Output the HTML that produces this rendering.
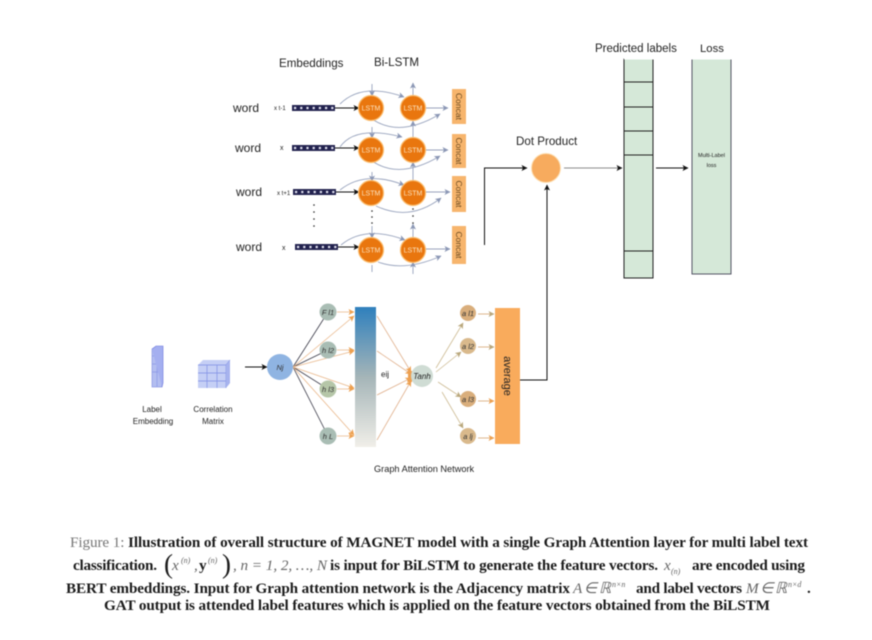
<!DOCTYPE html>
<html>
<head>
<meta charset="utf-8">
<style>
html,body{margin:0;padding:0;background:#fff;width:872px;height:640px;overflow:hidden}
svg{display:block;filter:blur(0.45px)}
text{font-family:"Liberation Sans",sans-serif;fill:#222}
.cap{font-family:"Liberation Serif",serif;font-size:15.2px;fill:#1c1c1c}
.b{font-weight:bold}
.g{fill:#777}
.mi{font-style:italic;fill:#666}
.sup{font-size:8px}
.lstm{font-size:7px;fill:#fbe3c0;text-anchor:middle}
.con{font-size:8.5px;fill:#6b4a20;text-anchor:middle}
.w{font-size:12px}
.s{font-size:7.5px;fill:#333;text-anchor:middle;font-style:italic}
</style>
</head>
<body>
<svg width="872" height="640" viewBox="0 0 872 640" xmlns="http://www.w3.org/2000/svg">
<defs>
<linearGradient id="gr" x1="0" y1="0" x2="0" y2="1">
<stop offset="0" stop-color="#2f80bd"/><stop offset=".5" stop-color="#a5b5b8"/><stop offset="1" stop-color="#f1efe9"/>
</linearGradient>
<marker id="k" markerWidth="7" markerHeight="7" refX="5.5" refY="3" orient="auto" markerUnits="userSpaceOnUse"><path d="M0 0L6 3L0 6L1.5 3Z" fill="#111"/></marker>
<marker id="p" markerWidth="7" markerHeight="7" refX="5.5" refY="3" orient="auto" markerUnits="userSpaceOnUse"><path d="M0 0L6 3L0 6L1.5 3Z" fill="#8b97b5"/></marker>
<marker id="o" markerWidth="7" markerHeight="7" refX="5.5" refY="3" orient="auto" markerUnits="userSpaceOnUse"><path d="M0 0L6 3L0 6L1.5 3Z" fill="#eda050"/></marker>
<marker id="t" markerWidth="7" markerHeight="7" refX="5.5" refY="3" orient="auto" markerUnits="userSpaceOnUse"><path d="M0 0L6 3L0 6L1.5 3Z" fill="#b9a77c"/></marker>
</defs>

<!-- top titles -->
<text x="279" y="67" font-size="11.6">Embeddings</text>
<text x="374" y="66" font-size="11.6">Bi-LSTM</text>
<text x="595" y="52" font-size="11.5">Predicted labels</text>
<text x="700" y="52" font-size="11.3">Loss</text>
<text x="516" y="145" font-size="11.6">Dot Product</text>

<!-- words -->
<text x="233" y="112" class="w">word</text>
<text x="235" y="152" class="w">word</text>
<text x="236" y="196" class="w">word</text>
<text x="236" y="251" class="w">word</text>
<text x="274" y="110" font-size="6" fill="#555">x t-1</text>
<text x="280" y="150" font-size="7">x</text>
<text x="277" y="195" font-size="6">x t+1</text>
<text x="282" y="250" font-size="7">x</text>

<!-- embedding bars -->
<g fill="#23234f">
<rect x="292" y="105" width="43" height="6"/>
<rect x="292" y="145" width="43" height="6"/>
<rect x="293" y="189" width="43" height="6"/>
<rect x="295" y="244" width="43" height="6"/>
</g>
<g stroke="#dfe0ee" stroke-width="2.2" stroke-dasharray="2.2 4" fill="none">
<path d="M294 108H334"/>
<path d="M294 148H334"/>
<path d="M295 192H335"/>
<path d="M297 247H337"/>
</g>
<g stroke="#111" stroke-width="1" fill="none">
<path d="M335 108H359" marker-end="url(#k)"/>
<path d="M335 148H359" marker-end="url(#k)"/>
<path d="M336 192H359" marker-end="url(#k)"/>
<path d="M338 247H359" marker-end="url(#k)"/>
</g>

<!-- grey connectors -->
<g stroke="#98a3bd" stroke-width="0.9" fill="none">
<path d="M340 104Q362 82 404 97" marker-end="url(#p)"/>
<path d="M340 147Q355 125 402 137" marker-end="url(#p)"/>
<path d="M340 190Q365 170 404 185" marker-end="url(#p)"/>
<path d="M341 245Q365 225 405 240" marker-end="url(#p)"/>
<path d="M372 119Q400 138 440 114" marker-end="url(#p)"/>
<path d="M372 161Q400 180 440 156" marker-end="url(#p)"/>
<path d="M376 206Q410 222 441 198" marker-end="url(#p)"/>
<path d="M378 262Q405 272 441 256" marker-end="url(#p)"/>
<path d="M413 96V83" marker-end="url(#p)"/>
<path d="M413 138V121" marker-end="url(#p)"/>
<path d="M413 181V162" marker-end="url(#p)"/>
<path d="M413 238V224" marker-end="url(#p)"/>
<path d="M425 108H448" marker-end="url(#p)"/>
<path d="M425 150H448" marker-end="url(#p)"/>
<path d="M425 192H450" marker-end="url(#p)"/>
<path d="M425 249H450" marker-end="url(#p)"/>
<path d="M372 84V96" marker-end="url(#p)"/>
<path d="M372 127V138" marker-end="url(#p)"/>
<path d="M372 172V181" marker-end="url(#p)"/>
<path d="M372 226V238" marker-end="url(#p)"/>
<path d="M413 274V262" marker-end="url(#p)"/>
<path d="M372 265V272"/>
</g>

<!-- LSTM cells -->
<g fill="#e9760e" stroke="#fbbf72" stroke-width="1.2">
<circle cx="371" cy="108" r="12.5"/><circle cx="413" cy="108" r="12.5"/>
<circle cx="371" cy="150" r="12.5"/><circle cx="413" cy="150" r="12.5"/>
<circle cx="371" cy="193" r="12.5"/><circle cx="413" cy="193" r="12.5"/>
<circle cx="371" cy="250" r="12.5"/><circle cx="413" cy="250" r="12.5"/>
</g>
<text class="lstm" x="371" y="110.5">LSTM</text><text class="lstm" x="413" y="110.5">LSTM</text>
<text class="lstm" x="371" y="152.5">LSTM</text><text class="lstm" x="413" y="152.5">LSTM</text>
<text class="lstm" x="371" y="195.5">LSTM</text><text class="lstm" x="413" y="195.5">LSTM</text>
<text class="lstm" x="371" y="252.5">LSTM</text><text class="lstm" x="413" y="252.5">LSTM</text>

<!-- vertical dots -->
<g fill="#222">
<circle cx="314" cy="205" r=".8"/><circle cx="314" cy="212" r=".8"/><circle cx="314" cy="219" r=".8"/><circle cx="314" cy="226" r=".8"/>
<circle cx="372" cy="211" r=".8"/><circle cx="372" cy="217" r=".8"/><circle cx="372" cy="223" r=".8"/>
<circle cx="413" cy="209" r=".8"/><circle cx="413" cy="216" r=".8"/><circle cx="413" cy="223" r=".8"/>
<circle cx="638" cy="182" r=".7"/><circle cx="638" cy="188" r=".7"/><circle cx="638" cy="194" r=".7"/><circle cx="638" cy="200" r=".7"/><circle cx="638" cy="206" r=".7"/>
</g>

<!-- Concat -->
<g fill="#f7b56d">
<rect x="452" y="89" width="14" height="35"/>
<rect x="452" y="134" width="14" height="34"/>
<rect x="452" y="176" width="14" height="36"/>
<rect x="452" y="226" width="14" height="38"/>
</g>
<text class="con" transform="translate(456,106.500) rotate(90)">Concat</text>
<text class="con" transform="translate(456,151) rotate(90)">Concat</text>
<text class="con" transform="translate(456,194) rotate(90)">Concat</text>
<text class="con" transform="translate(456,245) rotate(90)">Concat</text>

<!-- Dot product -->
<path d="M484.500 245V168H527" stroke="#111" stroke-width="1" fill="none" marker-end="url(#k)"/>
<path d="M520 380H547V185" stroke="#111" stroke-width="1" fill="none" marker-end="url(#k)"/>
<circle cx="546" cy="168" r="14.500" fill="#f7ab5e" stroke="#fde0b5" stroke-width="1"/>
<path d="M564 168H622" stroke="#666" stroke-width=".8" fill="none" marker-end="url(#k)"/>
<path d="M656 168H688" stroke="#111" stroke-width="1" fill="none" marker-end="url(#k)"/>

<!-- Predicted column -->
<rect x="624" y="59" width="29" height="219" fill="#d5e8d8" stroke="#222" stroke-width="1"/>
<rect x="624" y="57" width="29.500" height="2.500" fill="#fff"/>
<g stroke="#222" stroke-width="1">
<path d="M624 82H653M624 107H653M624 131H653M624 155H653M624 251H653"/>
</g>
<!-- Loss -->
<rect x="692" y="59" width="39" height="215" fill="#d5e8d8" stroke="#556" stroke-width="1"/>
<rect x="691" y="57" width="41" height="2.500" fill="#fff"/>
<text x="711.500" y="157" font-size="5.500" text-anchor="middle" fill="#444">Multi-Label</text>
<text x="711.500" y="167" font-size="5.500" text-anchor="middle" fill="#444">loss</text>

<!-- Left GAT input -->
<g>
<rect x="152" y="349" width="10" height="38" fill="#b3bef0" stroke="#7d8be0" stroke-width=".6"/>
<path d="M152 356H162M152 364H162M152 372H162M157 349V387" stroke="#8a96e6" stroke-width=".7"/>
<path d="M152 349L156 346H163V383L162 387" fill="#a4aff0" stroke="#6a76dc" stroke-width=".6"/>
<path d="M198 365L203 360H230V383L226 388H198Z" fill="#c5cff5"/>
<path d="M198 365H226V388M226 365L230 360M207 365V388M217 365V388M198 373H226M198 381H226" stroke="#7f8fe4" stroke-width=".7" fill="none"/>
<path d="M226 365L230 360V383L226 388Z" fill="#a7b3ee"/>
</g>
<text x="152" y="412" font-size="8" text-anchor="middle" fill="#444">Label</text>
<text x="153" y="424" font-size="8" text-anchor="middle" fill="#444">Embedding</text>
<text x="213" y="412" font-size="8" text-anchor="middle" fill="#444">Correlation</text>
<text x="213" y="424" font-size="8" text-anchor="middle" fill="#444">Matrix</text>
<path d="M245 367H267" stroke="#111" stroke-width="1" fill="none" marker-end="url(#k)"/>

<!-- Nj fan -->
<g stroke="#3a3a48" stroke-width=".8">
<path d="M293 367L328 312M293 367L328 350M293 367L328 389M293 367L328 436"/>
</g>
<g stroke="#e9b78a" stroke-width=".8" fill="none">
<path d="M293 367L354 316" marker-end="url(#o)"/>
<path d="M293 367L354 351" marker-end="url(#o)"/>
<path d="M293 367L354 388" marker-end="url(#o)"/>
<path d="M293 367L354 435" marker-end="url(#o)"/>
<path d="M337 312H354" marker-end="url(#o)"/>
<path d="M337 350H354" marker-end="url(#o)"/>
<path d="M337 389H354" marker-end="url(#o)"/>
<path d="M337 436H354" marker-end="url(#o)"/>
</g>
<circle cx="280" cy="367" r="13" fill="#8fb4e2"/>
<text class="s" x="280" y="370" font-size="8">Nj</text>
<circle cx="328" cy="312" r="8.500" fill="#a9bdb4"/>
<circle cx="328" cy="350" r="8.500" fill="#a9bdb4"/>
<circle cx="328" cy="389" r="8.500" fill="#b5c6a8"/>
<circle cx="328" cy="436" r="8.500" fill="#a9bdb4"/>
<text class="s" x="328" y="315">F l1</text>
<text class="s" x="328" y="353">h l2</text>
<text class="s" x="328" y="392">h l3</text>
<text class="s" x="328" y="439">h L</text>

<!-- gradient attention bar -->
<rect x="355" y="307" width="21" height="140" fill="url(#gr)"/>
<text x="381" y="377" font-size="8" fill="#222">eij</text>

<!-- to Tanh -->
<g stroke="#e0b08c" stroke-width=".8" fill="none">
<path d="M377 316L411 372" marker-end="url(#o)"/>
<path d="M377 351L411 374" marker-end="url(#o)"/>
<path d="M377 395L411 378" marker-end="url(#o)"/>
<path d="M377 440L411 381" marker-end="url(#o)"/>
</g>
<rect x="408" y="371" width="4" height="11" fill="#eda050"/>
<circle cx="422" cy="376" r="11" fill="#cfdcd4"/>
<text x="422" y="379" font-size="8" font-style="italic" text-anchor="middle" fill="#222">Tanh</text>
<g stroke="#cdbb94" stroke-width=".8" fill="none">
<path d="M436 368L463 323" marker-end="url(#t)"/>
<path d="M436 372L461 352" marker-end="url(#t)"/>
<path d="M438 382L461 397" marker-end="url(#t)"/>
<path d="M442 392L463 428" marker-end="url(#t)"/>
<path d="M478 314H494" stroke="#d9a570" marker-end="url(#t)"/>
<path d="M478 347H494" stroke="#d9a570" marker-end="url(#t)"/>
<path d="M478 401H494" stroke="#d9a570" marker-end="url(#o)"/>
<path d="M478 438H494" stroke="#d9a570" marker-end="url(#o)"/>
</g>
<circle cx="468" cy="313" r="8" fill="#d9ae7c"/>
<circle cx="468" cy="346" r="8" fill="#d9b98c"/>
<circle cx="468" cy="399" r="8" fill="#d9ae7c"/>
<circle cx="468" cy="436" r="8" fill="#d9b98c"/>
<text class="s" x="468" y="316">a l1</text>
<text class="s" x="468" y="349">a l2</text>
<text class="s" x="468" y="402">a l3</text>
<text class="s" x="468" y="439">a lj</text>

<!-- average -->
<rect x="495" y="308" width="25" height="136" fill="#f9ab5c"/>
<text transform="translate(504,376) rotate(90)" font-size="11" text-anchor="middle" fill="#222">average</text>

<text x="374" y="472" font-size="9.200" fill="#333">Graph Attention Network</text>

<!-- caption -->
<text class="cap" x="70" y="547" textLength="738" lengthAdjust="spacing"><tspan class="g">Figure 1: </tspan><tspan class="b">Illustration of overall structure of MAGNET model with a single Graph Attention layer for multi label text</tspan></text>

<text class="cap b" x="73" y="570" textLength="84" lengthAdjust="spacing">classification.</text>
<text class="cap" x="164" y="573" fill="#444" style="font-size:27px;font-weight:normal">(</text>
<text class="cap mi" x="172" y="570">x</text>
<text class="cap mi sup" x="181" y="563" style="font-size:8px">(n)</text>
<text class="cap mi" x="194" y="570">,</text>
<text class="cap b" x="199" y="570">y</text>
<text class="cap mi sup" x="208" y="563" style="font-size:8px">(n)</text>
<text class="cap" x="222" y="573" fill="#444" style="font-size:27px;font-weight:normal">)</text>
<text class="cap mi" x="233" y="570" textLength="94" lengthAdjust="spacing">, n = 1, 2, …, N</text>
<text class="cap b" x="330" y="570" textLength="328" lengthAdjust="spacing">is input for BiLSTM to generate the feature vectors.</text>
<text class="cap mi" x="664" y="570">x</text>
<text class="cap mi" x="671" y="574" style="font-size:8px">(n)</text>
<text class="cap b" x="692" y="570" textLength="113" lengthAdjust="spacing">are encoded using</text>

<text class="cap b" x="66" y="593" textLength="504" lengthAdjust="spacing">BERT embeddings. Input for Graph attention network is the Adjacency matrix</text>
<text class="cap mi" x="573" y="593" textLength="38" lengthAdjust="spacing">A ∈ ℝ</text>
<text class="cap mi" x="612" y="587" style="font-size:8px">n×n</text>
<text class="cap b" x="636" y="593" textLength="106" lengthAdjust="spacing">and label vectors</text>
<text class="cap mi" x="746" y="593" textLength="41" lengthAdjust="spacing">M ∈ ℝ</text>
<text class="cap mi" x="788" y="587" style="font-size:8px">n×d</text>
<text class="cap b" x="807" y="593">.</text>

<text class="cap b" x="104" y="610" textLength="666" lengthAdjust="spacing">GAT output is attended label features which is applied on the feature vectors obtained from the BiLSTM</text>
</svg>
</body>
</html>
